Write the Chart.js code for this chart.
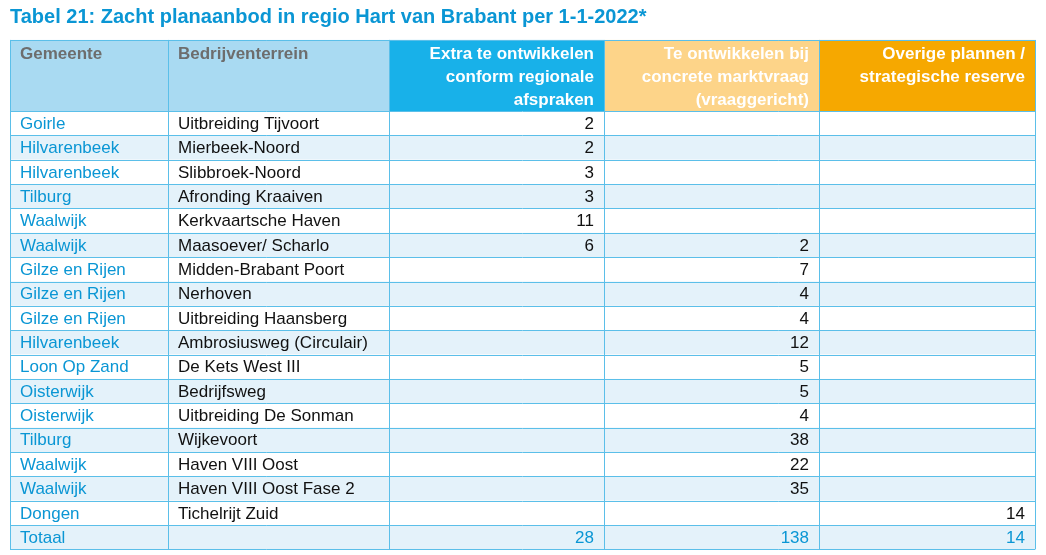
<!DOCTYPE html>
<html lang="nl">
<head>
<meta charset="UTF-8">
<title>Tabel 21</title>
<script src="https://cdn.jsdelivr.net/npm/chart.js"></script>
<style>
  html, body { margin: 0; padding: 0; background: #fff; }
  #wrap { width: 1046px; height: 555px; }
</style>
</head>
<body>
<div id="wrap"><canvas id="tbl"></canvas></div>
<script>
// table data
const title = 'Tabel 21: Zacht planaanbod in regio Hart van Brabant per 1-1-2022*';
const headers = ['Gemeente', 'Bedrijventerrein', 'Extra te ontwikkelen\nconform regionale\nafspraken', 'Te ontwikkelen bij\nconcrete marktvraag\n(vraaggericht)', 'Overige plannen /\nstrategische reserve'];
const gemeenten = ['Goirle', 'Hilvarenbeek', 'Hilvarenbeek', 'Tilburg', 'Waalwijk', 'Waalwijk', 'Gilze en Rijen', 'Gilze en Rijen', 'Gilze en Rijen', 'Hilvarenbeek', 'Loon Op Zand', 'Oisterwijk', 'Oisterwijk', 'Tilburg', 'Waalwijk', 'Waalwijk', 'Dongen'];
const terreinen = ['Uitbreiding Tijvoort', 'Mierbeek-Noord', 'Slibbroek-Noord', 'Afronding Kraaiven', 'Kerkvaartsche Haven', 'Maasoever/ Scharlo', 'Midden-Brabant Poort', 'Nerhoven', 'Uitbreiding Haansberg', 'Ambrosiusweg (Circulair)', 'De Kets West III', 'Bedrijfsweg', 'Uitbreiding De Sonman', 'Wijkevoort', 'Haven VIII Oost', 'Haven VIII Oost Fase 2', 'Tichelrijt Zuid'];
const extra = [2, 2, 3, 3, 11, 6, null, null, null, null, null, null, null, null, null, null, null];
const marktvraag = [null, null, null, null, null, 2, 7, 4, 4, 12, 5, 5, 4, 38, 22, 35, null];
const overig = [null, null, null, null, null, null, null, null, null, null, null, null, null, null, null, null, 14];
const totaal = ['Totaal', '', 28, 138, 14];

// layout (x in px units, y in row units)
const colEdges = [10, 168, 389, 604, 819, 1035];
const headerFill = ['#a9daf2', '#a9daf2', '#18b1e9', '#fdd489', '#f6a800'];
const headerText = ['#6d6d6d', '#6d6d6d', '#fff', '#fff', '#fff'];
const FONT = '"Liberation Sans Narrow", "Arial Narrow", sans-serif';

const tablePlugin = {
  id: 'table',
  afterDraw(chart) {
    const { ctx, scales: { x, y } } = chart;
    const px = v => x.getPixelForValue(v);
    const py = v => y.getPixelForValue(v);
    const nRows = gemeenten.length + 1;
    ctx.save();
    // title
    ctx.fillStyle = '#0a96d4';
    ctx.font = 'bold 20px ' + FONT;
    ctx.textBaseline = 'middle';
    ctx.fillText(title, px(10), py(-3.83));
    // header cells
    for (let c = 0; c < 5; c++) {
      ctx.fillStyle = headerFill[c];
      ctx.fillRect(px(colEdges[c]), py(-2.92), px(colEdges[c + 1]) - px(colEdges[c]), py(0) - py(-2.92));
      ctx.fillStyle = headerText[c];
      ctx.font = 'bold 17px ' + FONT;
      const lines = headers[c].split('\n');
      lines.forEach((ln, i) => {
        if (c < 2) { ctx.textAlign = 'left'; ctx.fillText(ln, px(colEdges[c]) + 10, py(-2.35) + i * 23); }
        else { ctx.textAlign = 'right'; ctx.fillText(ln, px(colEdges[c + 1]) - 10, py(-2.35) + i * 23); }
      });
    }
    // body rows
    for (let r = 0; r < nRows; r++) {
      const top = py(r), bot = py(r + 1);
      ctx.fillStyle = r % 2 === 1 ? '#e4f2fa' : '#ffffff';
      ctx.fillRect(px(colEdges[0]), top, px(colEdges[5]) - px(colEdges[0]), bot - top);
      const isTot = r === nRows - 1;
      const row = isTot ? totaal : [gemeenten[r], terreinen[r], extra[r], marktvraag[r], overig[r]];
      ctx.font = '17px ' + FONT;
      const mid = (top + bot) / 2 + 1;
      for (let c = 0; c < 5; c++) {
        const v = row[c];
        if (v === null || v === '') continue;
        if (c < 2) {
          ctx.textAlign = 'left';
          ctx.fillStyle = (c === 0 || isTot) ? '#0a96d4' : '#111';
          ctx.fillText(v, px(colEdges[c]) + 10, mid);
        } else {
          ctx.textAlign = 'right';
          ctx.fillStyle = isTot ? '#0a96d4' : '#111';
          ctx.fillText(String(v), px(colEdges[c + 1]) - 10, mid);
        }
      }
    }
    // grid lines
    ctx.strokeStyle = '#5bbfe9';
    ctx.lineWidth = 1;
    for (let r = 0; r <= nRows; r++) {
      ctx.beginPath();
      ctx.moveTo(px(colEdges[0]), Math.round(py(r)) + 0.5);
      ctx.lineTo(px(colEdges[5]), Math.round(py(r)) + 0.5);
      ctx.stroke();
    }
    ctx.beginPath();
    ctx.moveTo(px(colEdges[0]), Math.round(py(-2.92)) + 0.5);
    ctx.lineTo(px(colEdges[5]), Math.round(py(-2.92)) + 0.5);
    ctx.stroke();
    colEdges.forEach(e => {
      ctx.beginPath();
      ctx.moveTo(Math.round(px(e)) + 0.5, py(-2.92));
      ctx.lineTo(Math.round(px(e)) + 0.5, py(nRows));
      ctx.stroke();
    });
    ctx.restore();
  }
};

new Chart(document.getElementById('tbl'), {
  type: 'scatter',
  data: { datasets: [{ data: [] }] },
  options: {
    responsive: true,
    maintainAspectRatio: false,
    animation: false,
    layout: { padding: 0 },
    plugins: { legend: { display: false }, tooltip: { enabled: false } },
    scales: {
      x: { type: 'linear', min: 0, max: 1046, display: false },
      y: { type: 'linear', min: -4.56, max: 18.23, reverse: true, display: false }
    }
  },
  plugins: [tablePlugin]
});
</script>
</body>
</html>
